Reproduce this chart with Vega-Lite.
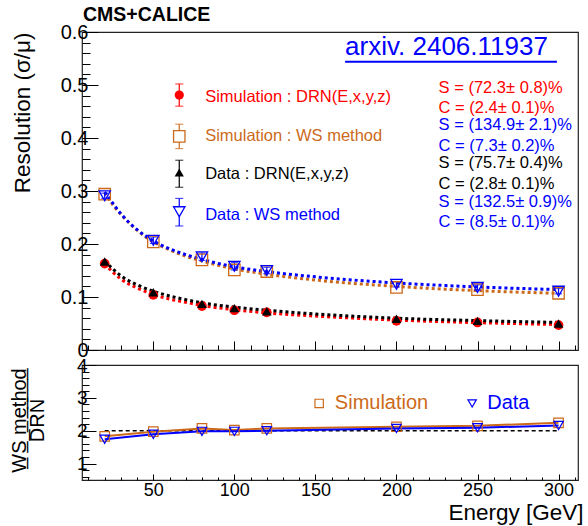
{
  "$schema": "https://vega.github.io/schema/vega-lite/v6.json",
  "background": "white",
  "padding": {"left": 8, "top": 4, "right": 2, "bottom": 2},
  "bounds": "flush",
  "spacing": 15,
  "resolve": {"scale": {"color": "independent", "shape": "independent", "stroke": "independent", "fill": "independent"}},
  "title": {"text": "CMS+CALICE", "anchor": "start", "frame": "group", "fontSize": 19.5, "fontWeight": "bold", "font": "Liberation Sans", "color": "black", "offset": -4, "dx": 1},
  "config": {
    "view": {"stroke": "#222222", "strokeWidth": 1.2},
    "font": "Liberation Sans",
    "axis": {"domain": false, "grid": false, "labelOverlap": false, "tickCount": 100, "tickColor": "black", "labelColor": "black", "titleColor": "black", "labelFont": "Liberation Sans", "titleFont": "Liberation Sans", "titleFontWeight": "normal", "tickWidth": 1}
  },
  "datasets": {
    "fit": [
      {"E": 20, "v": 0.163, "series": "Simulation : DRN(E,x,y,z)"},
      {"E": 25, "v": 0.147, "series": "Simulation : DRN(E,x,y,z)"},
      {"E": 30, "v": 0.134, "series": "Simulation : DRN(E,x,y,z)"},
      {"E": 40, "v": 0.117, "series": "Simulation : DRN(E,x,y,z)"},
      {"E": 50, "v": 0.105, "series": "Simulation : DRN(E,x,y,z)"},
      {"E": 60, "v": 0.096, "series": "Simulation : DRN(E,x,y,z)"},
      {"E": 70, "v": 0.090, "series": "Simulation : DRN(E,x,y,z)"},
      {"E": 80, "v": 0.084, "series": "Simulation : DRN(E,x,y,z)"},
      {"E": 100, "v": 0.076, "series": "Simulation : DRN(E,x,y,z)"},
      {"E": 120, "v": 0.070, "series": "Simulation : DRN(E,x,y,z)"},
      {"E": 150, "v": 0.064, "series": "Simulation : DRN(E,x,y,z)"},
      {"E": 200, "v": 0.0565, "series": "Simulation : DRN(E,x,y,z)"},
      {"E": 250, "v": 0.0516, "series": "Simulation : DRN(E,x,y,z)"},
      {"E": 300, "v": 0.048, "series": "Simulation : DRN(E,x,y,z)"},
      {"E": 20, "v": 0.168, "series": "Data : DRN(E,x,y,z)"},
      {"E": 25, "v": 0.153, "series": "Data : DRN(E,x,y,z)"},
      {"E": 30, "v": 0.140, "series": "Data : DRN(E,x,y,z)"},
      {"E": 40, "v": 0.123, "series": "Data : DRN(E,x,y,z)"},
      {"E": 50, "v": 0.111, "series": "Data : DRN(E,x,y,z)"},
      {"E": 60, "v": 0.102, "series": "Data : DRN(E,x,y,z)"},
      {"E": 70, "v": 0.095, "series": "Data : DRN(E,x,y,z)"},
      {"E": 80, "v": 0.089, "series": "Data : DRN(E,x,y,z)"},
      {"E": 100, "v": 0.081, "series": "Data : DRN(E,x,y,z)"},
      {"E": 120, "v": 0.075, "series": "Data : DRN(E,x,y,z)"},
      {"E": 150, "v": 0.068, "series": "Data : DRN(E,x,y,z)"},
      {"E": 200, "v": 0.060, "series": "Data : DRN(E,x,y,z)"},
      {"E": 250, "v": 0.0555, "series": "Data : DRN(E,x,y,z)"},
      {"E": 300, "v": 0.052, "series": "Data : DRN(E,x,y,z)"},
      {"E": 20, "v": 0.297, "series": "Simulation : WS method"},
      {"E": 25, "v": 0.274, "series": "Simulation : WS method"},
      {"E": 30, "v": 0.256, "series": "Simulation : WS method"},
      {"E": 40, "v": 0.226, "series": "Simulation : WS method"},
      {"E": 50, "v": 0.204, "series": "Simulation : WS method"},
      {"E": 60, "v": 0.189, "series": "Simulation : WS method"},
      {"E": 70, "v": 0.177, "series": "Simulation : WS method"},
      {"E": 80, "v": 0.168, "series": "Simulation : WS method"},
      {"E": 100, "v": 0.153, "series": "Simulation : WS method"},
      {"E": 120, "v": 0.143, "series": "Simulation : WS method"},
      {"E": 150, "v": 0.132, "series": "Simulation : WS method"},
      {"E": 200, "v": 0.120, "series": "Simulation : WS method"},
      {"E": 250, "v": 0.112, "series": "Simulation : WS method"},
      {"E": 300, "v": 0.107, "series": "Simulation : WS method"},
      {"E": 20, "v": 0.298, "series": "Data : WS method"},
      {"E": 25, "v": 0.277, "series": "Data : WS method"},
      {"E": 30, "v": 0.257, "series": "Data : WS method"},
      {"E": 40, "v": 0.227, "series": "Data : WS method"},
      {"E": 50, "v": 0.206, "series": "Data : WS method"},
      {"E": 60, "v": 0.191, "series": "Data : WS method"},
      {"E": 70, "v": 0.180, "series": "Data : WS method"},
      {"E": 80, "v": 0.171, "series": "Data : WS method"},
      {"E": 100, "v": 0.157, "series": "Data : WS method"},
      {"E": 120, "v": 0.148, "series": "Data : WS method"},
      {"E": 150, "v": 0.138, "series": "Data : WS method"},
      {"E": 200, "v": 0.1265, "series": "Data : WS method"},
      {"E": 250, "v": 0.119, "series": "Data : WS method"},
      {"E": 300, "v": 0.114, "series": "Data : WS method"}
    ],
    "pts": [
      {"E": 20, "v": 0.163, "lo": 0.161, "hi": 0.165, "series": "Simulation : DRN(E,x,y,z)"},
      {"E": 50, "v": 0.104, "lo": 0.102, "hi": 0.106, "series": "Simulation : DRN(E,x,y,z)"},
      {"E": 80, "v": 0.083, "lo": 0.081, "hi": 0.085, "series": "Simulation : DRN(E,x,y,z)"},
      {"E": 100, "v": 0.075, "lo": 0.073, "hi": 0.077, "series": "Simulation : DRN(E,x,y,z)"},
      {"E": 120, "v": 0.071, "lo": 0.069, "hi": 0.073, "series": "Simulation : DRN(E,x,y,z)"},
      {"E": 200, "v": 0.055, "lo": 0.053, "hi": 0.057, "series": "Simulation : DRN(E,x,y,z)"},
      {"E": 250, "v": 0.052, "lo": 0.050, "hi": 0.054, "series": "Simulation : DRN(E,x,y,z)"},
      {"E": 300, "v": 0.047, "lo": 0.045, "hi": 0.049, "series": "Simulation : DRN(E,x,y,z)"},
      {"E": 20, "v": 0.167, "lo": 0.166, "hi": 0.168, "series": "Data : DRN(E,x,y,z)"},
      {"E": 50, "v": 0.109, "lo": 0.108, "hi": 0.110, "series": "Data : DRN(E,x,y,z)"},
      {"E": 80, "v": 0.087, "lo": 0.086, "hi": 0.088, "series": "Data : DRN(E,x,y,z)"},
      {"E": 100, "v": 0.079, "lo": 0.078, "hi": 0.080, "series": "Data : DRN(E,x,y,z)"},
      {"E": 120, "v": 0.073, "lo": 0.072, "hi": 0.074, "series": "Data : DRN(E,x,y,z)"},
      {"E": 200, "v": 0.059, "lo": 0.058, "hi": 0.060, "series": "Data : DRN(E,x,y,z)"},
      {"E": 250, "v": 0.055, "lo": 0.054, "hi": 0.056, "series": "Data : DRN(E,x,y,z)"},
      {"E": 300, "v": 0.050, "lo": 0.049, "hi": 0.051, "series": "Data : DRN(E,x,y,z)"},
      {"E": 20, "v": 0.294, "lo": 0.290, "hi": 0.298, "series": "Simulation : WS method"},
      {"E": 50, "v": 0.204, "lo": 0.200, "hi": 0.208, "series": "Simulation : WS method"},
      {"E": 80, "v": 0.170, "lo": 0.166, "hi": 0.174, "series": "Simulation : WS method"},
      {"E": 100, "v": 0.151, "lo": 0.147, "hi": 0.155, "series": "Simulation : WS method"},
      {"E": 120, "v": 0.148, "lo": 0.144, "hi": 0.152, "series": "Simulation : WS method"},
      {"E": 200, "v": 0.118, "lo": 0.114, "hi": 0.122, "series": "Simulation : WS method"},
      {"E": 250, "v": 0.114, "lo": 0.110, "hi": 0.118, "series": "Simulation : WS method"},
      {"E": 300, "v": 0.107, "lo": 0.103, "hi": 0.111, "series": "Simulation : WS method"},
      {"E": 20, "v": 0.291, "lo": 0.286, "hi": 0.296, "series": "Data : WS method"},
      {"E": 50, "v": 0.207, "lo": 0.201, "hi": 0.213, "series": "Data : WS method"},
      {"E": 80, "v": 0.176, "lo": 0.169, "hi": 0.183, "series": "Data : WS method"},
      {"E": 100, "v": 0.158, "lo": 0.151, "hi": 0.165, "series": "Data : WS method"},
      {"E": 120, "v": 0.150, "lo": 0.144, "hi": 0.156, "series": "Data : WS method"},
      {"E": 200, "v": 0.124, "lo": 0.119, "hi": 0.129, "series": "Data : WS method"},
      {"E": 250, "v": 0.118, "lo": 0.113, "hi": 0.123, "series": "Data : WS method"},
      {"E": 300, "v": 0.111, "lo": 0.106, "hi": 0.116, "series": "Data : WS method"}
    ],
    "legend": [
      {"E": 66, "v": 0.481, "lo": 0.460, "hi": 0.502, "tx": 82, "tv": 0.478, "series": "Simulation : DRN(E,x,y,z)"},
      {"E": 66, "v": 0.403, "lo": 0.380, "hi": 0.426, "tx": 82, "tv": 0.403, "series": "Simulation : WS method"},
      {"E": 66, "v": 0.335, "lo": 0.307, "hi": 0.358, "tx": 82, "tv": 0.332, "series": "Data : DRN(E,x,y,z)"},
      {"E": 66, "v": 0.261, "lo": 0.234, "hi": 0.286, "tx": 82, "tv": 0.254, "series": "Data : WS method"}
    ],
    "params": [
      {"E": 226, "v": 0.495, "label": "S = (72.3± 0.8)%", "series": "Simulation : DRN(E,x,y,z)"},
      {"E": 226, "v": 0.456, "label": "C = (2.4± 0.1)%", "series": "Simulation : DRN(E,x,y,z)"},
      {"E": 226, "v": 0.424, "label": "S = (134.9± 2.1)%", "series": "Simulation : WS method"},
      {"E": 226, "v": 0.385, "label": "C = (7.3± 0.2)%", "series": "Simulation : WS method"},
      {"E": 226, "v": 0.352, "label": "S = (75.7± 0.4)%", "series": "Data : DRN(E,x,y,z)"},
      {"E": 226, "v": 0.313, "label": "C = (2.8± 0.1)%", "series": "Data : DRN(E,x,y,z)"},
      {"E": 226, "v": 0.280, "label": "S = (132.5± 0.9)%", "series": "Data : WS method"},
      {"E": 226, "v": 0.241, "label": "C = (8.5± 0.1)%", "series": "Data : WS method"}
    ],
    "note": [
      {"E": 168.3, "E2": 299, "v": 0.571, "u": 0.544, "label": "arxiv. 2406.11937"}
    ],
    "ratio": [
      {"E": 20, "v": 1.83, "series": "Simulation"},
      {"E": 50, "v": 1.97, "series": "Simulation"},
      {"E": 80, "v": 2.07, "series": "Simulation"},
      {"E": 100, "v": 2.02, "series": "Simulation"},
      {"E": 120, "v": 2.07, "series": "Simulation"},
      {"E": 200, "v": 2.12, "series": "Simulation"},
      {"E": 250, "v": 2.15, "series": "Simulation"},
      {"E": 300, "v": 2.24, "series": "Simulation"},
      {"E": 20, "v": 1.74, "series": "Data"},
      {"E": 50, "v": 1.89, "series": "Data"},
      {"E": 80, "v": 1.98, "series": "Data"},
      {"E": 100, "v": 1.98, "series": "Data"},
      {"E": 120, "v": 2.00, "series": "Data"},
      {"E": 200, "v": 2.07, "series": "Data"},
      {"E": 250, "v": 2.09, "series": "Data"},
      {"E": 300, "v": 2.16, "series": "Data"}
    ],
    "unity": [
      {"E": 20, "v": 2},
      {"E": 300, "v": 2}
    ],
    "rlegend": [
      {"E": 152.3, "v": 2.83, "tx": 162, "label": "Simulation", "series": "Simulation"},
      {"E": 246.7, "v": 2.83, "tx": 256, "label": "Data", "series": "Data"}
    ]
  },
  "vconcat": [
    {
      "width": 496,
      "height": 318,
      "layer": [
        {
          "data": {"name": "fit"},
          "mark": {"type": "line", "strokeDash": [3, 3], "strokeWidth": 3, "interpolate": "monotone"},
          "encoding": {
            "x": {"field": "E", "type": "quantitative", "scale": {"domain": [6, 312], "nice": false, "zero": false},
              "axis": {"title": null, "labels": false, "tickCount": 100, "values": [10,20,30,40,50,60,70,80,90,100,110,120,130,140,150,160,170,180,190,200,210,220,230,240,250,260,270,280,290,300,310],
                "tickSize": {"condition": {"test": "datum.value % 50 == 0", "value": -9}, "value": -5}}},
            "y": {"field": "v", "type": "quantitative", "scale": {"domain": [0, 0.6], "nice": false, "zero": false},
              "axis": {"title": "Resolution (σ/μ)", "titleFontSize": 22.5, "titleAngle": -90, "titleAlign": "right", "titleBaseline": "alphabetic", "titleX": -53, "titleY": 0,
                "tickCount": 100,
                "values": [0,0.02,0.04,0.06,0.08,0.1,0.12,0.14,0.16,0.18,0.2,0.22,0.24,0.26,0.28,0.3,0.32,0.34,0.36,0.38,0.4,0.42,0.44,0.46,0.48,0.5,0.52,0.54,0.56,0.58,0.6],
                "labelExpr": "abs(datum.value*10 - round(datum.value*10)) < 0.001 ? (datum.value == 0 ? '0' : format(datum.value, '.1f')) : ''",
                "labelFontSize": 20, "labelPadding": 10, "labelOverlap": false, "labelFlush": false, "labelBound": false,
                "tickSize": {"condition": {"test": "abs(datum.value*10 - round(datum.value*10)) < 0.001", "value": -16}, "value": -8}}},
            "color": {"field": "series", "type": "nominal", "legend": null,
              "scale": {"domain": ["Simulation : DRN(E,x,y,z)", "Simulation : WS method", "Data : DRN(E,x,y,z)", "Data : WS method"], "range": ["#ff0000", "#cc6a1a", "#000000", "#0000ff"]}}
          }
        },
        {
          "data": {"name": "pts"},
          "transform": [{"filter": {"field": "series", "equal": "Data : WS method"}}],
          "mark": {"type": "rule", "strokeWidth": 1.2},
          "encoding": {
            "x": {"field": "E", "type": "quantitative"},
            "y": {"field": "lo", "type": "quantitative"},
            "y2": {"field": "hi"},
            "color": {"field": "series", "type": "nominal", "legend": null}
          }
        },
        {
          "data": {"name": "pts"},
          "transform": [{"filter": {"field": "series", "equal": "Data : WS method"}}, {"fold": ["lo", "hi"], "as": ["end", "cap"]}],
          "mark": {"type": "tick", "orient": "horizontal", "size": 7, "thickness": 1.2},
          "encoding": {
            "x": {"field": "E", "type": "quantitative"},
            "y": {"field": "cap", "type": "quantitative"},
            "color": {"field": "series", "type": "nominal", "legend": null}
          }
        },
        {
          "data": {"name": "pts"},
          "transform": [{"filter": {"field": "series", "oneOf": ["Simulation : DRN(E,x,y,z)", "Data : DRN(E,x,y,z)"]}}],
          "mark": {"type": "point", "filled": true, "opacity": 1},
          "encoding": {
            "x": {"field": "E", "type": "quantitative"},
            "y": {"field": "v", "type": "quantitative"},
            "color": {"field": "series", "type": "nominal", "legend": null},
            "shape": {"field": "series", "type": "nominal", "legend": null,
              "scale": {"domain": ["Simulation : DRN(E,x,y,z)", "Simulation : WS method", "Data : DRN(E,x,y,z)", "Data : WS method"], "range": ["circle", "square", "triangle-up", "triangle-down"]}},
            "size": {"value": 95}
          }
        },
        {
          "data": {"name": "pts"},
          "transform": [{"filter": {"field": "series", "oneOf": ["Simulation : WS method", "Data : WS method"]}}],
          "mark": {"type": "point", "filled": false, "strokeWidth": 1.3, "opacity": 1},
          "encoding": {
            "x": {"field": "E", "type": "quantitative"},
            "y": {"field": "v", "type": "quantitative"},
            "color": {"field": "series", "type": "nominal", "legend": null},
            "shape": {"field": "series", "type": "nominal", "legend": null},
            "size": {"value": 130}
          }
        },
        {
          "data": {"name": "legend"},
          "mark": {"type": "rule", "strokeWidth": 1.2},
          "encoding": {
            "x": {"field": "E", "type": "quantitative"},
            "y": {"field": "lo", "type": "quantitative"},
            "y2": {"field": "hi"},
            "color": {"field": "series", "type": "nominal", "legend": null}
          }
        },
        {
          "data": {"name": "legend"},
          "transform": [{"fold": ["lo", "hi"], "as": ["end", "cap"]}],
          "mark": {"type": "tick", "orient": "horizontal", "size": 8, "thickness": 1.2},
          "encoding": {
            "x": {"field": "E", "type": "quantitative"},
            "y": {"field": "cap", "type": "quantitative"},
            "color": {"field": "series", "type": "nominal", "legend": null}
          }
        },
        {
          "data": {"name": "legend"},
          "transform": [{"filter": {"field": "series", "oneOf": ["Simulation : DRN(E,x,y,z)", "Data : DRN(E,x,y,z)"]}}],
          "mark": {"type": "point", "filled": true, "opacity": 1},
          "encoding": {
            "x": {"field": "E", "type": "quantitative"},
            "y": {"field": "v", "type": "quantitative"},
            "color": {"field": "series", "type": "nominal", "legend": null},
            "shape": {"field": "series", "type": "nominal", "legend": null},
            "size": {"value": 85}
          }
        },
        {
          "data": {"name": "legend"},
          "transform": [{"filter": {"field": "series", "oneOf": ["Simulation : WS method", "Data : WS method"]}}],
          "mark": {"type": "point", "filled": true, "fill": "white", "strokeWidth": 1.3, "opacity": 1},
          "encoding": {
            "x": {"field": "E", "type": "quantitative"},
            "y": {"field": "v", "type": "quantitative"},
            "stroke": {"field": "series", "type": "nominal", "legend": null,
              "scale": {"domain": ["Simulation : DRN(E,x,y,z)", "Simulation : WS method", "Data : DRN(E,x,y,z)", "Data : WS method"], "range": ["#ff0000", "#cc6a1a", "#000000", "#0000ff"]}},
            "shape": {"field": "series", "type": "nominal", "legend": null},
            "size": {"value": 130}
          }
        },
        {
          "data": {"name": "legend"},
          "mark": {"type": "text", "align": "left", "baseline": "middle", "fontSize": 16.5, "font": "Liberation Sans"},
          "encoding": {
            "x": {"field": "tx", "type": "quantitative"},
            "y": {"field": "tv", "type": "quantitative"},
            "text": {"field": "series"},
            "color": {"field": "series", "type": "nominal", "legend": null}
          }
        },
        {
          "data": {"name": "params"},
          "mark": {"type": "text", "align": "left", "baseline": "middle", "fontSize": 16.5, "font": "Liberation Sans"},
          "encoding": {
            "x": {"field": "E", "type": "quantitative"},
            "y": {"field": "v", "type": "quantitative"},
            "text": {"field": "label"},
            "fill": {"field": "series", "type": "nominal", "legend": null,
              "scale": {"domain": ["Simulation : DRN(E,x,y,z)", "Simulation : WS method", "Data : DRN(E,x,y,z)", "Data : WS method"], "range": ["#ff0000", "#0000ff", "#000000", "#0000ff"]}}
          }
        },
        {
          "data": {"name": "note"},
          "mark": {"type": "text", "align": "left", "baseline": "middle", "fontSize": 26, "font": "Liberation Sans", "color": "#0000ff"},
          "encoding": {
            "x": {"field": "E", "type": "quantitative"},
            "y": {"field": "v", "type": "quantitative"},
            "text": {"field": "label"}
          }
        },
        {
          "data": {"name": "note"},
          "mark": {"type": "rule", "strokeWidth": 2, "color": "#0000ff"},
          "encoding": {
            "x": {"field": "E", "type": "quantitative"},
            "x2": {"field": "E2"},
            "y": {"field": "u", "type": "quantitative"}
          }
        }
      ]
    },
    {
      "width": 496,
      "height": 115,
      "layer": [
        {
          "data": {"name": "unity"},
          "mark": {"type": "line", "strokeDash": [4, 3], "strokeWidth": 1.5, "color": "black"},
          "encoding": {
            "x": {"field": "E", "type": "quantitative", "scale": {"domain": [6, 312], "nice": false, "zero": false},
              "axis": {"title": "Energy [GeV]", "titleFontSize": 22.5, "titleAnchor": "end", "titleAlign": "right", "titleBaseline": "alphabetic", "titleX": 501, "titleY": 39,
                "tickCount": 100,
                "values": [10,20,30,40,50,60,70,80,90,100,110,120,130,140,150,160,170,180,190,200,210,220,230,240,250,260,270,280,290,300,310],
                "labelExpr": "datum.value % 50 == 0 ? datum.label : ''", "labelFontSize": 18, "labelPadding": 7, "labelOverlap": false, "labelFlush": false, "labelBound": false,
                "tickSize": {"condition": {"test": "datum.value % 50 == 0", "value": -6}, "value": -3}}},
            "y": {"field": "v", "type": "quantitative", "scale": {"domain": [0.5, 4], "nice": false, "zero": false},
              "axis": {"title": ["W\u0332S\u0332 \u0332m\u0332e\u0332t\u0332h\u0332o\u0332d\u0332", "DRN"], "titleFontSize": 20, "titleLineHeight": 18.5, "titleAngle": -90, "titleAlign": "center", "titleBaseline": "alphabetic", "titleX": -57, "titleY": 55,
                "tickCount": 100,
                "values": [0.6,0.8,1,1.2,1.4,1.6,1.8,2,2.2,2.4,2.6,2.8,3,3.2,3.4,3.6,3.8,4],
                "labelExpr": "abs(datum.value - round(datum.value)) < 0.001 ? format(datum.value, 'd') : ''",
                "labelFontSize": 19, "labelPadding": 9, "labelOverlap": false, "labelFlush": false, "labelBound": false,
                "tickSize": {"condition": {"test": "abs(datum.value - round(datum.value)) < 0.001", "value": -14}, "value": -7}}}
          }
        },
        {
          "data": {"name": "ratio"},
          "mark": {"type": "line", "strokeWidth": 2},
          "encoding": {
            "x": {"field": "E", "type": "quantitative"},
            "y": {"field": "v", "type": "quantitative"},
            "color": {"field": "series", "type": "nominal", "legend": null, "scale": {"domain": ["Simulation", "Data"], "range": ["#cc6a1a", "#0000ff"]}}
          }
        },
        {
          "data": {"name": "ratio"},
          "mark": {"type": "point", "filled": false, "strokeWidth": 1.2, "opacity": 1},
          "encoding": {
            "x": {"field": "E", "type": "quantitative"},
            "y": {"field": "v", "type": "quantitative"},
            "color": {"field": "series", "type": "nominal", "legend": null},
            "shape": {"field": "series", "type": "nominal", "legend": null, "scale": {"domain": ["Simulation", "Data"], "range": ["square", "triangle-down"]}},
            "size": {"value": 90}
          }
        },
        {
          "data": {"name": "rlegend"},
          "mark": {"type": "point", "filled": false, "strokeWidth": 1.2, "opacity": 1},
          "encoding": {
            "x": {"field": "E", "type": "quantitative"},
            "y": {"field": "v", "type": "quantitative"},
            "color": {"field": "series", "type": "nominal", "legend": null},
            "shape": {"field": "series", "type": "nominal", "legend": null},
            "size": {"value": 70}
          }
        },
        {
          "data": {"name": "rlegend"},
          "mark": {"type": "text", "align": "left", "baseline": "middle", "fontSize": 20, "font": "Liberation Sans"},
          "encoding": {
            "x": {"field": "tx", "type": "quantitative"},
            "y": {"field": "v", "type": "quantitative"},
            "text": {"field": "label"},
            "color": {"field": "series", "type": "nominal", "legend": null}
          }
        }
      ]
    }
  ]
}
